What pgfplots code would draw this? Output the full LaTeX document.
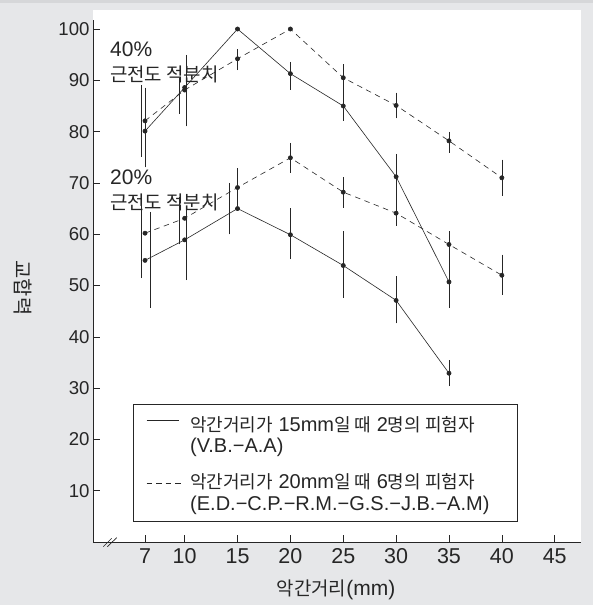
\documentclass[border=0pt]{standalone}
\usepackage{pgfplots}
\pgfplotsset{compat=1.18}
\usepackage{fontspec}
\setmainfont{Liberation Sans}
\newfontfamily\kr{Noto Sans CJK KR}[Scale=0.9]
\definecolor{bggray}{HTML}{E6E7E9}
\definecolor{topgray}{HTML}{D6D7D9}
\definecolor{ink}{HTML}{262626}
\begin{document}
\begin{tikzpicture}[x=1bp,y=1bp]
\useasboundingbox (0,0) rectangle (593,605);
\fill[bggray] (0,0) rectangle (593,605);
\fill[topgray] (0,602) rectangle (593,605);
\fill[white] (92.7,63) rectangle (580.6,595);
\begin{axis}[
  at={(93bp,63bp)}, anchor=south west, scale only axis,
  width=487.6bp, height=522.2bp,
  xmin=1.33, xmax=47.45, ymin=0, ymax=101.8,
  axis x line=bottom, axis y line=left,
  axis line style={-, ink, line width=0.7pt},
  tick align=inside, major tick length=6.5bp,
  tick style={ink, line width=0.6pt},
  xtick={6.25,10,15,20,25,30,35,40,45},
  xticklabels={7,10,15,20,25,30,35,40,45},
  ytick={10,20,30,40,50,60,70,80,90,100},
  /pgf/number format/assume math mode=true,
  yticklabel style={font=\fontsize{18.6bp}{20bp}\selectfont, text=ink},
  xticklabel style={font=\fontsize{21.5bp}{23bp}\selectfont, text=ink, yshift=-3bp},
  clip=false,
]
% 15 mm, 40% (solid upper)
\addplot[ink, line width=0.6pt, mark=*, mark size=2.1bp, mark options={solid, fill=ink}]
  coordinates {(6.25,80.1)(10,88.6)(15,100)(20,91.3)(25,85)(30,71.2)(35,50.7)};
% 15 mm, 20% (solid lower)
\addplot[ink, line width=0.6pt, mark=*, mark size=2.1bp, mark options={solid, fill=ink}]
  coordinates {(6.25,54.9)(10,58.9)(15,65)(20,59.9)(25,53.9)(30,47.1)(35,32.9)};
% 20 mm, 40% (dashed upper)
\addplot[ink, line width=0.6pt, dash pattern=on 5.5bp off 4.5bp, mark=*, mark size=2.1bp, mark options={solid, fill=ink}]
  coordinates {(6.25,82.1)(10,88.1)(15,94.2)(20,100)(25,90.5)(30,85.1)(35,78.2)(40,71)};
% 20 mm, 20% (dashed lower)
\addplot[ink, line width=0.6pt, dash pattern=on 5.5bp off 4.5bp, mark=*, mark size=2.1bp, mark options={solid, fill=ink}]
  coordinates {(6.25,60.2)(10,63.1)(15,69.1)(20,74.9)(25,68.2)(30,64.1)(35,58)(40,52)};
% error bars
\pgfplotsset{ebar/.style={forget plot, draw=none, mark=none,
  error bars/.cd, y dir=both, y explicit,
  error bar style={solid, draw=ink, line width=0.6pt},
  error mark options={solid, draw=ink, mark size=2.4bp, line width=0.6pt}}}
\addplot[ebar] table[x=x, y=y, y error=e] {
x y e
6.3 80.8 7.3
10.2 88 6.5
20 90.9 2.25
25 85.1 2.55
30 71.1 4.1
35 50.5 4.35
};
\addplot[ebar] table[x=x, y=y, y error=e] {
x y e
6.75 55 8.9
10.2 58.3 6.8
14.2 65 4.55
20 60.1 4.5
25 54.1 6
30 47.2 4.1
35 32.9 2.05
};
\addplot[ebar] table[x=x, y=y, y error=e] {
x y e
5.9 82.1 6.5
9.5 87 3.05
15 94 1.55
25 90.5 2.15
30 85.1 2.05
35 77.9 1.6
40 71 3.05
};
\addplot[ebar] table[x=x, y=y, y error=e] {
x y e
5.9 58.9 7
9.5 62.6 4.1
15 69.2 3.2
20 74.9 2.45
25 68.1 2.5
30 64.1 2.0
35 58 2.1
40 52.1 3.45
};
\end{axis}
% axis break mark
\draw[ink, line width=0.7pt] (103.3,58.3) -- (111.7,66.7);
\draw[ink, line width=0.7pt] (107.3,58.3) -- (116.7,67.3);
% annotations
\begin{scope}[every node/.style={anchor=base west, inner sep=0, text=ink, font=\fontsize{21bp}{23bp}\selectfont}]
\node at (110,548.3) {40\%};
\node at (110,523) {\kr 근전도 적분치};
\node at (110,420) {20\%};
\node at (110,395) {\kr 근전도 적분치};
\end{scope}
% legend
\draw[ink, line width=0.6pt] (133,84) rectangle (517,201);
\draw[ink, line width=0.6pt] (146.7,185) -- (179.3,185);
\draw[ink, line width=0.6pt, dash pattern=on 5.5bp off 4bp] (146.7,122) -- (183.5,122);
\begin{scope}[every node/.style={anchor=base west, inner sep=0, text=ink, font=\fontsize{20bp}{22bp}\selectfont}]
\node at (190,173) {{\kr 악간거리가} 15mm{\kr 일 때} 2{\kr 명의 피험자}};
\node at (190,152) {(V.B.−A.A)};
\node at (190,116) {{\kr 악간거리가} 20mm{\kr 일 때} 6{\kr 명의 피험자}};
\node at (190,94) {(E.D.−C.P.−R.M.−G.S.−J.B.−A.M)};
\end{scope}
% axis titles
\node[anchor=base, inner sep=0, text=ink, font=\fontsize{21bp}{23bp}\selectfont] at (336,9.5) {{\kr 악간거리}(mm)};
\node[rotate=-90, anchor=center, inner sep=0, text=ink, font=\fontsize{22bp}{24bp}\selectfont] at (23,317) {\kr 교합력};
\end{tikzpicture}
\end{document}
